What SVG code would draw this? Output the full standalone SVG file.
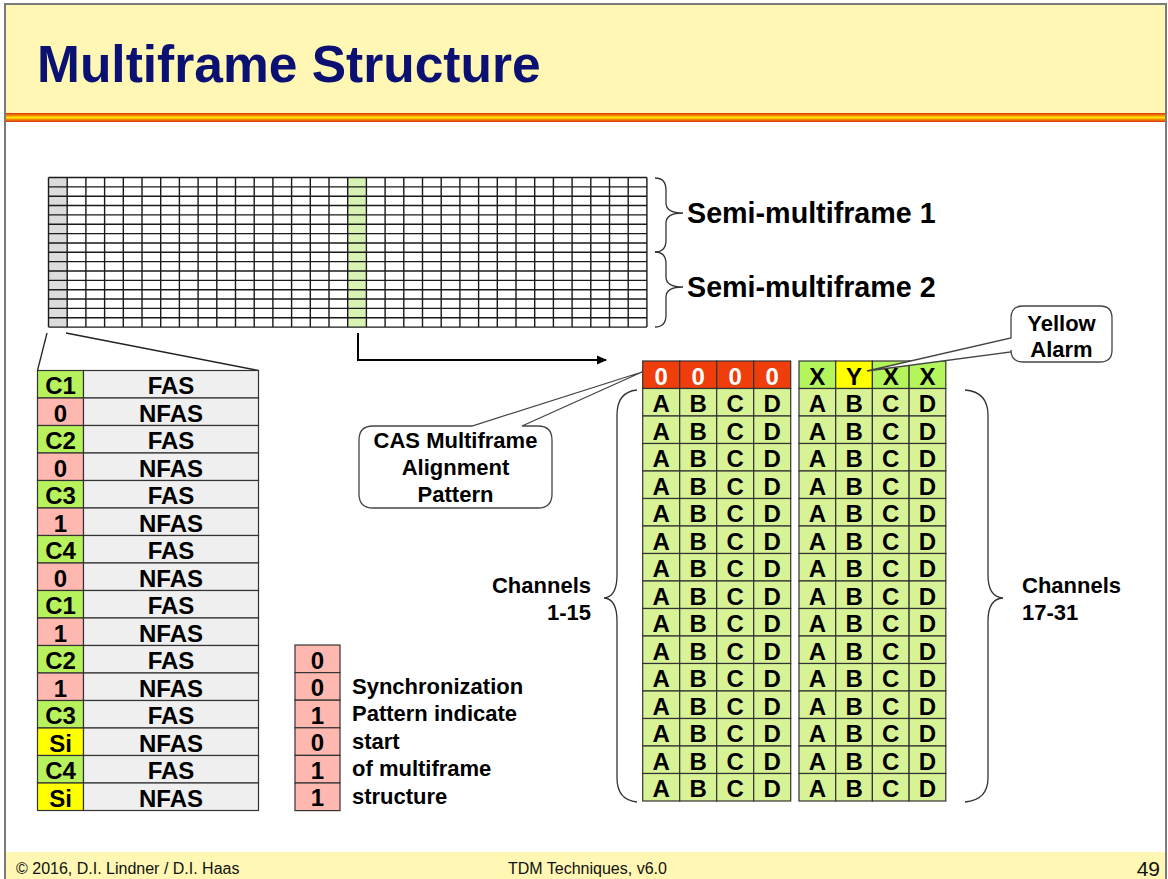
<svg xmlns="http://www.w3.org/2000/svg" width="1168" height="879" viewBox="0 0 1168 879">
<style>
.b{font-family:"Liberation Sans",Arial,sans-serif;font-weight:bold;fill:#000}
.c{text-anchor:middle}
.t24{font-size:24px}
.t22{font-size:22px}
.grid{stroke:#1a1a1a;stroke-width:1.4;fill:none}
.cell{stroke:#333;stroke-width:1.2}
.brace{fill:none;stroke:#333;stroke-width:1.3}
.call{fill:#fff;stroke:#444;stroke-width:1.3}
.foot{font-family:"Liberation Sans",Arial,sans-serif;font-size:16px;fill:#111}
</style>
<defs>
<linearGradient id="stripe" x1="0" y1="0" x2="0" y2="1">
<stop offset="0" stop-color="#d9300c"/>
<stop offset="0.28" stop-color="#f38a00"/>
<stop offset="0.5" stop-color="#ffe800"/>
<stop offset="0.72" stop-color="#f38a00"/>
<stop offset="1" stop-color="#d9300c"/>
</linearGradient>
<marker id="arr" markerWidth="10" markerHeight="10" refX="9" refY="5" orient="auto" markerUnits="userSpaceOnUse">
<path d="M0,0.5 L10,5 L0,9.5 Z" fill="#000"/>
</marker>
<g id="abcd">
<rect class="cell" x="642.7" y="0" width="37" height="27.5" fill="#d7f395"/>
<rect class="cell" x="679.7" y="0" width="37" height="27.5" fill="#d7f395"/>
<rect class="cell" x="716.7" y="0" width="37" height="27.5" fill="#d7f395"/>
<rect class="cell" x="753.7" y="0" width="37" height="27.5" fill="#d7f395"/>
<rect class="cell" x="799" y="0" width="36.7" height="27.5" fill="#d7f395"/>
<rect class="cell" x="835.7" y="0" width="36.7" height="27.5" fill="#d7f395"/>
<rect class="cell" x="872.4" y="0" width="36.7" height="27.5" fill="#d7f395"/>
<rect class="cell" x="909.1" y="0" width="36.7" height="27.5" fill="#d7f395"/>
<text class="b c t24" x="661.2" y="23.5">A</text>
<text class="b c t24" x="698.2" y="23.5">B</text>
<text class="b c t24" x="735.2" y="23.5">C</text>
<text class="b c t24" x="772.2" y="23.5">D</text>
<text class="b c t24" x="817.35" y="23.5">A</text>
<text class="b c t24" x="854.05" y="23.5">B</text>
<text class="b c t24" x="890.75" y="23.5">C</text>
<text class="b c t24" x="927.45" y="23.5">D</text>
</g>
</defs>

<rect x="0" y="0" width="1168" height="879" fill="#fff"/>
<g id="header">
<rect x="6" y="5" width="1160" height="108" fill="#fff7b3"/>
<rect x="6" y="113" width="1160" height="9" fill="url(#stripe)"/>
<text x="37" y="82" font-family="Liberation Sans,Arial,sans-serif" font-weight="bold" font-size="51.5" fill="#0a1172">Multiframe Structure</text>
</g>
<g id="footer">
<rect x="6" y="852" width="1160" height="27" fill="#fff7b3"/>
<text class="foot" x="16" y="874">© 2016, D.I. Lindner / D.I. Haas</text>
<text class="foot" x="508" y="874">TDM Techniques, v6.0</text>
<text class="foot" x="1160" y="876" text-anchor="end" style="font-size:21px">49</text>
</g>
<rect x="5" y="4" width="1161" height="890" fill="none" stroke="#7a7a7a" stroke-width="2"/>

<g id="frame-grid">
<rect x="48.5" y="177.5" width="18.7" height="149.6" fill="#dcdcdc"/>
<rect x="347.7" y="177.5" width="18.7" height="149.6" fill="#d8f2b4"/>
<path class="grid" d="M48.5,177.5V327.1M67.2,177.5V327.1M85.9,177.5V327.1M104.6,177.5V327.1M123.3,177.5V327.1M142,177.5V327.1M160.7,177.5V327.1M179.4,177.5V327.1M198.1,177.5V327.1M216.8,177.5V327.1M235.5,177.5V327.1M254.2,177.5V327.1M272.9,177.5V327.1M291.6,177.5V327.1M310.3,177.5V327.1M329,177.5V327.1M347.7,177.5V327.1M366.4,177.5V327.1M385.1,177.5V327.1M403.8,177.5V327.1M422.5,177.5V327.1M441.2,177.5V327.1M459.9,177.5V327.1M478.6,177.5V327.1M497.3,177.5V327.1M516,177.5V327.1M534.7,177.5V327.1M553.4,177.5V327.1M572.1,177.5V327.1M590.8,177.5V327.1M609.5,177.5V327.1M628.2,177.5V327.1M646.9,177.5V327.1"/>
<path class="grid" d="M48.5,177.5H646.9M48.5,186.85H646.9M48.5,196.2H646.9M48.5,205.55H646.9M48.5,214.9H646.9M48.5,224.25H646.9M48.5,233.6H646.9M48.5,242.95H646.9M48.5,252.3H646.9M48.5,261.65H646.9M48.5,271H646.9M48.5,280.35H646.9M48.5,289.7H646.9M48.5,299.05H646.9M48.5,308.4H646.9M48.5,317.75H646.9M48.5,327.1H646.9"/>
</g>

<g id="semi-braces">
<path class="brace" d="M655,178 Q666,178 666,190 V203 Q666,213 683,213 Q666,213 666,223 V240 Q666,252 655,252"/>
<path class="brace" d="M655,252 Q666,252 666,264 V277 Q666,287 683,287 Q666,287 666,297 V315 Q666,327 655,327"/>
<text class="b" x="687" y="223" font-size="28.7">Semi-multiframe 1</text>
<text class="b" x="687" y="297" font-size="28.7">Semi-multiframe 2</text>
</g>

<g id="connectors">
<path d="M47,333 L37.5,370.5" stroke="#222" stroke-width="1.3" fill="none"/>
<path d="M66,333 L258.5,370.5" stroke="#222" stroke-width="1.3" fill="none"/>
<path d="M358,333 V360 H606" stroke="#000" stroke-width="2" fill="none" marker-end="url(#arr)"/>
</g>

<g id="ts0-table">
<g class="cell">
<rect x="37.5" y="370.5" width="46" height="27.5" fill="#b7f25c"/>
<rect x="37.5" y="398" width="46" height="27.5" fill="#ffb8b0"/>
<rect x="37.5" y="425.5" width="46" height="27.5" fill="#b7f25c"/>
<rect x="37.5" y="453" width="46" height="27.5" fill="#ffb8b0"/>
<rect x="37.5" y="480.5" width="46" height="27.5" fill="#b7f25c"/>
<rect x="37.5" y="508" width="46" height="27.5" fill="#ffb8b0"/>
<rect x="37.5" y="535.5" width="46" height="27.5" fill="#b7f25c"/>
<rect x="37.5" y="563" width="46" height="27.5" fill="#ffb8b0"/>
<rect x="37.5" y="590.5" width="46" height="27.5" fill="#b7f25c"/>
<rect x="37.5" y="618" width="46" height="27.5" fill="#ffb8b0"/>
<rect x="37.5" y="645.5" width="46" height="27.5" fill="#b7f25c"/>
<rect x="37.5" y="673" width="46" height="27.5" fill="#ffb8b0"/>
<rect x="37.5" y="700.5" width="46" height="27.5" fill="#b7f25c"/>
<rect x="37.5" y="728" width="46" height="27.5" fill="#ffff00"/>
<rect x="37.5" y="755.5" width="46" height="27.5" fill="#b7f25c"/>
<rect x="37.5" y="783" width="46" height="27.5" fill="#ffff00"/>
</g>
<g class="cell" fill="#efefef">
<rect x="83.5" y="370.5" width="175" height="27.5"/>
<rect x="83.5" y="398" width="175" height="27.5"/>
<rect x="83.5" y="425.5" width="175" height="27.5"/>
<rect x="83.5" y="453" width="175" height="27.5"/>
<rect x="83.5" y="480.5" width="175" height="27.5"/>
<rect x="83.5" y="508" width="175" height="27.5"/>
<rect x="83.5" y="535.5" width="175" height="27.5"/>
<rect x="83.5" y="563" width="175" height="27.5"/>
<rect x="83.5" y="590.5" width="175" height="27.5"/>
<rect x="83.5" y="618" width="175" height="27.5"/>
<rect x="83.5" y="645.5" width="175" height="27.5"/>
<rect x="83.5" y="673" width="175" height="27.5"/>
<rect x="83.5" y="700.5" width="175" height="27.5"/>
<rect x="83.5" y="728" width="175" height="27.5"/>
<rect x="83.5" y="755.5" width="175" height="27.5"/>
<rect x="83.5" y="783" width="175" height="27.5"/>
</g>
<g class="b c t24">
<text x="60.5" y="394">C1</text><text x="171" y="394">FAS</text>
<text x="60.5" y="421.5">0</text><text x="171" y="421.5">NFAS</text>
<text x="60.5" y="449">C2</text><text x="171" y="449">FAS</text>
<text x="60.5" y="476.5">0</text><text x="171" y="476.5">NFAS</text>
<text x="60.5" y="504">C3</text><text x="171" y="504">FAS</text>
<text x="60.5" y="531.5">1</text><text x="171" y="531.5">NFAS</text>
<text x="60.5" y="559">C4</text><text x="171" y="559">FAS</text>
<text x="60.5" y="586.5">0</text><text x="171" y="586.5">NFAS</text>
<text x="60.5" y="614">C1</text><text x="171" y="614">FAS</text>
<text x="60.5" y="641.5">1</text><text x="171" y="641.5">NFAS</text>
<text x="60.5" y="669">C2</text><text x="171" y="669">FAS</text>
<text x="60.5" y="696.5">1</text><text x="171" y="696.5">NFAS</text>
<text x="60.5" y="724">C3</text><text x="171" y="724">FAS</text>
<text x="60.5" y="751.5">Si</text><text x="171" y="751.5">NFAS</text>
<text x="60.5" y="779">C4</text><text x="171" y="779">FAS</text>
<text x="60.5" y="806.5">Si</text><text x="171" y="806.5">NFAS</text>
</g>
</g>

<g id="sync-pattern">
<g class="cell" fill="#ffb8b0">
<rect x="295" y="645" width="45" height="27.6"/>
<rect x="295" y="672.6" width="45" height="27.6"/>
<rect x="295" y="700.2" width="45" height="27.6"/>
<rect x="295" y="727.8" width="45" height="27.6"/>
<rect x="295" y="755.4" width="45" height="27.6"/>
<rect x="295" y="783" width="45" height="27.6"/>
</g>
<g class="b c t24">
<text x="317.5" y="668.5">0</text>
<text x="317.5" y="696">0</text>
<text x="317.5" y="723.6">1</text>
<text x="317.5" y="751.2">0</text>
<text x="317.5" y="778.8">1</text>
<text x="317.5" y="806.4">1</text>
</g>
<g class="b t22">
<text x="352" y="693.5">Synchronization</text>
<text x="352" y="721">Pattern indicate</text>
<text x="352" y="748.5">start</text>
<text x="352" y="776">of multiframe</text>
<text x="352" y="803.5">structure</text>
</g>
</g>

<g id="ts16-table">
<g class="cell" fill="#ef3e0c">
<rect x="642.7" y="361" width="37" height="27.5"/>
<rect x="679.7" y="361" width="37" height="27.5"/>
<rect x="716.7" y="361" width="37" height="27.5"/>
<rect x="753.7" y="361" width="37" height="27.5"/>
</g>
<rect class="cell" x="799" y="361" width="36.7" height="27.5" fill="#b5f55c"/>
<rect class="cell" x="835.7" y="361" width="36.7" height="27.5" fill="#ffff00"/>
<rect class="cell" x="872.4" y="361" width="36.7" height="27.5" fill="#b5f55c"/>
<rect class="cell" x="909.1" y="361" width="36.7" height="27.5" fill="#b5f55c"/>
<g class="b c t24">
<text x="661.2" y="384.5" fill="#fff">0</text>
<text x="698.2" y="384.5" fill="#fff">0</text>
<text x="735.2" y="384.5" fill="#fff">0</text>
<text x="772.2" y="384.5" fill="#fff">0</text>
<text x="817.35" y="384.5">X</text>
<text x="854.05" y="384.5">Y</text>
<text x="890.75" y="384.5">X</text>
<text x="927.45" y="384.5">X</text>
</g>
<use href="#abcd" y="388.5"/>
<use href="#abcd" y="416"/>
<use href="#abcd" y="443.5"/>
<use href="#abcd" y="471"/>
<use href="#abcd" y="498.5"/>
<use href="#abcd" y="526"/>
<use href="#abcd" y="553.5"/>
<use href="#abcd" y="581"/>
<use href="#abcd" y="608.5"/>
<use href="#abcd" y="636"/>
<use href="#abcd" y="663.5"/>
<use href="#abcd" y="691"/>
<use href="#abcd" y="718.5"/>
<use href="#abcd" y="746"/>
<use href="#abcd" y="773.5"/>
</g>

<g id="channel-braces">
<path class="brace" d="M637,390 Q617,392 617,415 V575 Q617,597 604,598 Q617,599 617,621 V778 Q617,800 637,802"/>
<path class="brace" d="M965,390 Q988,392 988,415 V575 Q988,597 1003,598 Q988,599 988,621 V778 Q988,800 965,802"/>
<text class="b t22" x="591" y="593" text-anchor="end">Channels</text>
<text class="b t22" x="591" y="620" text-anchor="end">1-15</text>
<text class="b t22" x="1022" y="593">Channels</text>
<text class="b t22" x="1022" y="620">17-31</text>
</g>

<g id="cas-callout">
<path class="call" d="M373,426 H472 L642,372 L522,426 H538 Q552,426 552,440 V494 Q552,508 538,508 H373 Q359,508 359,494 V440 Q359,426 373,426 Z"/>
<text class="b c t22" x="455.5" y="448">CAS Multiframe</text>
<text class="b c t22" x="455.5" y="475">Alignment</text>
<text class="b c t22" x="455.5" y="502">Pattern</text>
</g>

<g id="yellow-callout">
<path class="call" d="M1023,306 H1100 Q1112,306 1112,318 V350 Q1112,362 1100,362 H1023 Q1011,362 1011,350 V352 L867,371 L1011,338 V318 Q1011,306 1023,306 Z"/>
<text class="b c t22" x="1061.5" y="331">Yellow</text>
<text class="b c t22" x="1061.5" y="357">Alarm</text>
</g>
</svg>
